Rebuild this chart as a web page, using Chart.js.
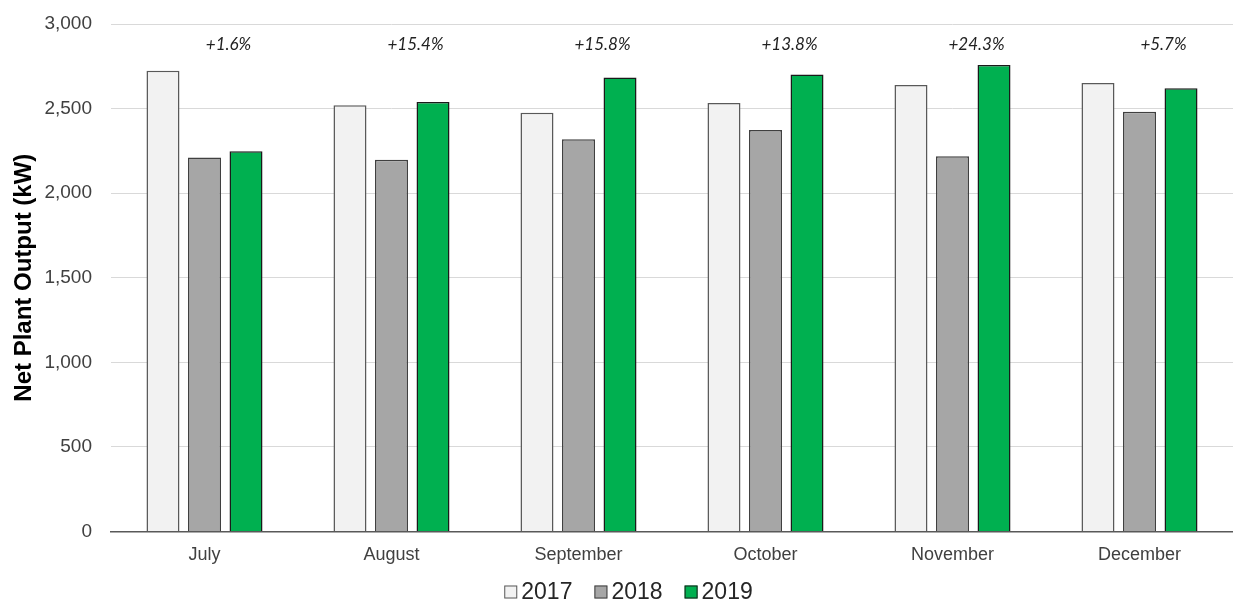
<!DOCTYPE html>
<html>
<head>
<meta charset="utf-8">
<script src="https://cdn.jsdelivr.net/npm/chart.js@4"></script>
<style>
  html, body { margin: 0; padding: 0; background: #fff; }
  #wrap { width: 1233px; height: 602px; }
</style>
</head>
<body>
<div id="wrap"><canvas id="chart"></canvas></div>
<script>
const months = ['July', 'August', 'September', 'October', 'November', 'December'];
const output2017 = [2723, 2519, 2476, 2533, 2640, 2651];
const output2018 = [2210, 2198, 2319, 2374, 2218, 2481];
const output2019 = [2248, 2539, 2683, 2701, 2758, 2620];
const changeLabels = ['+1.6%', '+15.4%', '+15.8%', '+13.8%', '+24.3%', '+5.7%'];
const yTicks = [0, 500, 1000, 1500, 2000, 2500, 3000];

const FONT = '"Liberation Sans", Arial, sans-serif';

// year-over-year change written above each month group
const changeLabelPlugin = {
    id: 'changeLabels',
    afterDatasetsDraw(chart) {
        const { ctx, scales } = chart;
        ctx.save();
        ctx.font = 'italic 17px Lato, "Open Sans", sans-serif';
        ctx.fillStyle = '#222';
        ctx.textAlign = 'center';
        ctx.textBaseline = 'middle';
        changeLabels.forEach((txt, i) => {
            const x = scales.x.getPixelForValue(i) + 24;
            const y = scales.y.getPixelForValue(2880);
            ctx.fillText(txt, x, y);
        });
        ctx.restore();
    }
};

// compact legend: small square right next to the year
const bottomLegend = {
    id: 'bottomLegend',
    afterDraw(chart) {
        const { ctx } = chart;
        const box = 13, gap = 4, spacing = 22;
        ctx.save();
        ctx.font = '23px ' + FONT;
        ctx.textBaseline = 'middle';
        const items = chart.data.datasets.map(ds => ({
            ds, w: box + gap + ctx.measureText(ds.label).width
        }));
        const total = items.reduce((s, it) => s + it.w, 0) + spacing * (items.length - 1);
        let x = (chart.width - total) / 2 + 12;
        const y = 592;
        items.forEach(({ ds, w }) => {
            ctx.fillStyle = ds.backgroundColor;
            ctx.strokeStyle = ds.borderColor;
            ctx.lineWidth = 1;
            ctx.fillRect(x, y - box / 2, box, box);
            ctx.strokeRect(x + 0.5, y - box / 2 + 0.5, box - 1, box - 1);
            ctx.fillStyle = '#262626';
            ctx.fillText(ds.label, x + box + gap, y + 1);
            x += w + spacing;
        });
        ctx.restore();
    }
};

new Chart(document.getElementById('chart'), {
    type: 'bar',
    data: {
        labels: months,
        datasets: [
            { label: '2017', data: output2017, backgroundColor: '#f2f2f2', borderColor: '#595959', borderWidth: 1.5 },
            { label: '2018', data: output2018, backgroundColor: '#a6a6a6', borderColor: '#404040', borderWidth: 1.5 },
            { label: '2019', data: output2019, backgroundColor: '#00b050', borderColor: '#1a1a1a', borderWidth: 1.5 }
        ]
    },
    options: {
        responsive: true,
        maintainAspectRatio: false,
        animation: false,
        datasets: {
            bar: { categoryPercentage: 0.666, barPercentage: 0.795 }
        },
        layout: { padding: { top: 24, left: 8, right: 0, bottom: 31 } },
        plugins: {
            legend: { display: false },
            tooltip: { enabled: false }
        },
        scales: {
            x: {
                grid: { display: false },
                border: { display: true, color: '#595959', width: 1.5 },
                ticks: {
                    font: { family: FONT, size: 18 },
                    color: '#404040',
                    padding: 5
                }
            },
            y: {
                min: 0,
                max: 3000,
                afterBuildTicks(scale) {
                    scale.ticks = yTicks.map(v => ({ value: v }));
                },
                afterFit(scale) {
                    scale.width = 103;
                    scale.paddingTop = 0;
                },
                grid: { color: '#d9d9d9', lineWidth: 1, drawTicks: false },
                border: { display: false },
                ticks: {
                    font: { family: FONT, size: 19 },
                    color: '#404040',
                    padding: 19,
                    callback: v => v.toLocaleString('en-US')
                },
                title: {
                    display: true,
                    text: 'Net Plant Output (kW)',
                    font: { family: FONT, size: 24, weight: 'bold' },
                    color: '#000',
                    padding: { top: 2, bottom: 8 }
                }
            }
        }
    },
    plugins: [changeLabelPlugin, bottomLegend]
});
</script>
</body>
</html>
